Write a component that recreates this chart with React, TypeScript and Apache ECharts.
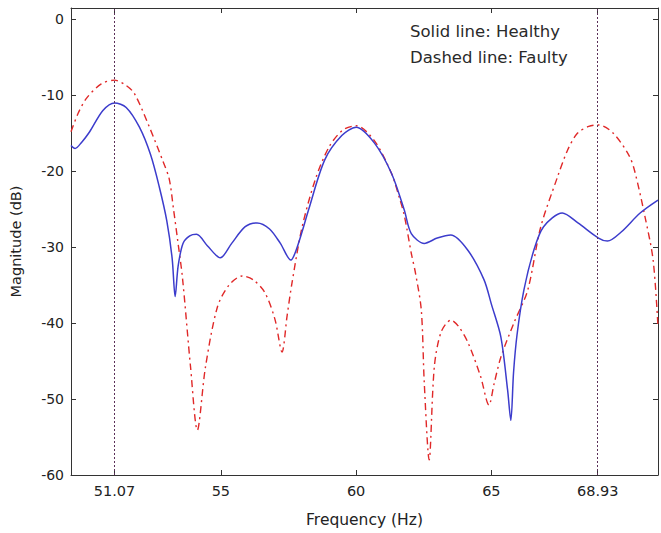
import React, { useEffect, useRef } from "react";
import * as echarts from "echarts";

const healthyFreq = [49.46, 49.61, 49.85, 50.15, 50.64, 51.07, 51.5, 51.99, 52.4, 52.72, 53.0, 53.2, 53.31, 53.42, 53.6, 53.85, 54.1, 54.5, 54.98, 55.4, 55.9, 56.34, 56.8, 57.2, 57.59, 57.74, 58.0, 58.24, 58.84, 59.47, 60.0, 60.68, 61.31, 61.78, 62.04, 62.52, 63.0, 63.5, 64.13, 64.73, 65.0, 65.35, 65.6, 65.72, 65.82, 65.95, 66.2, 66.57, 66.93, 67.62, 68.2, 68.96, 69.29, 69.8, 70.5, 71.16];
const healthyMag = [-16.6, -17.0, -16.2, -14.8, -12.0, -11.0, -11.6, -14.2, -17.8, -22.0, -26.5, -31.5, -36.5, -32.5, -29.5, -28.5, -28.3, -29.8, -31.4, -29.5, -27.3, -26.8, -27.6, -29.5, -31.7, -30.8, -28.0, -25.1, -18.5, -15.3, -14.2, -16.3, -20.3, -25.1, -28.2, -29.5, -28.8, -28.4, -30.4, -34.3, -37.5, -41.8, -48.8, -52.8, -46.5, -41.5, -35.7, -30.4, -27.3, -25.5, -26.8, -28.8, -29.2, -28.0, -25.5, -23.8];

const faultyFreq = [49.46, 49.72, 50.03, 50.58, 51.07, 51.5, 51.81, 52.36, 52.85, 53.09, 53.25, 53.4, 53.58, 53.88, 54.13, 54.43, 54.87, 55.3, 55.79, 56.2, 56.63, 57.0, 57.26, 57.45, 57.63, 58.0, 58.5, 59.0, 59.5, 60.0, 60.68, 61.31, 61.6, 61.78, 62.04, 62.2, 62.41, 62.52, 62.7, 62.89, 63.14, 63.51, 63.8, 64.14, 64.6, 64.91, 65.1, 65.35, 65.83, 66.34, 66.82, 67.44, 67.82, 68.18, 68.6, 68.96, 69.51, 70.1, 70.3, 70.68, 70.98, 71.16];
const faultyMag = [-14.8, -12.4, -10.4, -8.5, -8.0, -8.7, -9.8, -14.2, -18.6, -21.0, -25.0, -29.0, -34.0, -45.8, -54.1, -45.8, -37.9, -35.0, -33.8, -34.3, -36.0, -39.5, -43.8, -39.0, -34.7, -27.4, -21.0, -16.8, -14.6, -14.0, -16.0, -20.3, -23.5, -25.8, -30.8, -33.5, -38.3, -47.9, -58.0, -45.8, -41.2, -39.6, -40.5, -42.6, -47.0, -50.8, -48.0, -44.5, -40.0, -35.7, -27.4, -20.8, -17.2, -15.0, -14.1, -13.9, -15.0, -18.0, -20.0, -26.0, -31.7, -40.5];

const xTicks = [51.07, 55, 60, 65, 68.93];
const yTicks = [-60, -50, -40, -30, -20, -10, 0];
const markerFreqs = [51.07, 68.93];
const legendLines = ["Solid line: Healthy", "Dashed line: Faulty"];

const FONT = "'DejaVu Sans', Verdana, sans-serif";

export default function App() {
  const ref = useRef<HTMLDivElement>(null);
  useEffect(() => {
    if (!ref.current) return;
    const chart = echarts.init(ref.current, null, { renderer: "svg" });
    const axisLine = { show: true, onZero: false, lineStyle: { color: "#333", width: 1 } };
    const tickIn = (vals: number[]) => ({ show: true, inside: true, length: 5, customValues: vals, lineStyle: { color: "#333" } });
    chart.setOption({
      animation: false,
      backgroundColor: "#fff",
      grid: { left: 68, right: 3, top: 8, bottom: 58, containLabel: false },
      xAxis: [
        {
          type: "value", min: 49.46, max: 71.16, position: "bottom",
          name: "Frequency (Hz)", nameLocation: "middle", nameGap: 37,
          nameTextStyle: { fontFamily: FONT, fontSize: 15.5, color: "#222" },
          axisLine, axisTick: tickIn(xTicks),
          axisLabel: { customValues: xTicks, fontFamily: FONT, fontSize: 14.5, color: "#222", margin: 8, formatter: (v: number) => String(v) },
          splitLine: { show: false },
        },
        {
          type: "value", min: 49.46, max: 71.16, position: "top",
          axisLine, axisTick: tickIn(xTicks), axisLabel: { show: false }, splitLine: { show: false },
        },
      ],
      yAxis: [
        {
          type: "value", min: -60, max: 1.5, position: "left",
          name: "Magnitude (dB)", nameLocation: "middle", nameGap: 48, nameRotate: 90,
          nameTextStyle: { fontFamily: FONT, fontSize: 14.5, color: "#222" },
          axisLine, axisTick: tickIn(yTicks),
          axisLabel: { customValues: yTicks, fontFamily: FONT, fontSize: 14, color: "#222", margin: 7 },
          splitLine: { show: false },
        },
        {
          type: "value", min: -60, max: 1.5, position: "right",
          axisLine, axisTick: tickIn(yTicks), axisLabel: { show: false }, splitLine: { show: false },
        },
      ],
      series: [
        {
          type: "line", name: "Faulty", xAxisIndex: 0, yAxisIndex: 0,
          data: faultyFreq.map((f, i) => [f, faultyMag[i]]),
          showSymbol: false, smooth: 0.3,
          lineStyle: { color: "#e02828", width: 1.4, type: [7, 4, 2, 4] },
          markLine: {
            silent: true, symbol: "none", label: { show: false },
            lineStyle: { color: "#5a2f58", width: 1, type: [2, 2] },
            data: markerFreqs.map((f) => ({ xAxis: f })),
          },
          z: 2,
        },
        {
          type: "line", name: "Healthy", xAxisIndex: 0, yAxisIndex: 0,
          data: healthyFreq.map((f, i) => [f, healthyMag[i]]),
          showSymbol: false, smooth: 0.3,
          lineStyle: { color: "#3c3ccc", width: 1.5, type: "solid" },
          z: 3,
        },
      ],
      graphic: legendLines.map((t, i) => ({
        type: "text", x: 410, y: 31 + i * 26,
        style: { text: t, fontFamily: FONT, fontSize: 16.5, fill: "#2a2a2a", verticalAlign: "middle" },
      })),
    });
    return () => chart.dispose();
  }, []);
  return <div ref={ref} style={{ width: 661, height: 533, position: "absolute", left: 0, top: 0 }} />;
}
